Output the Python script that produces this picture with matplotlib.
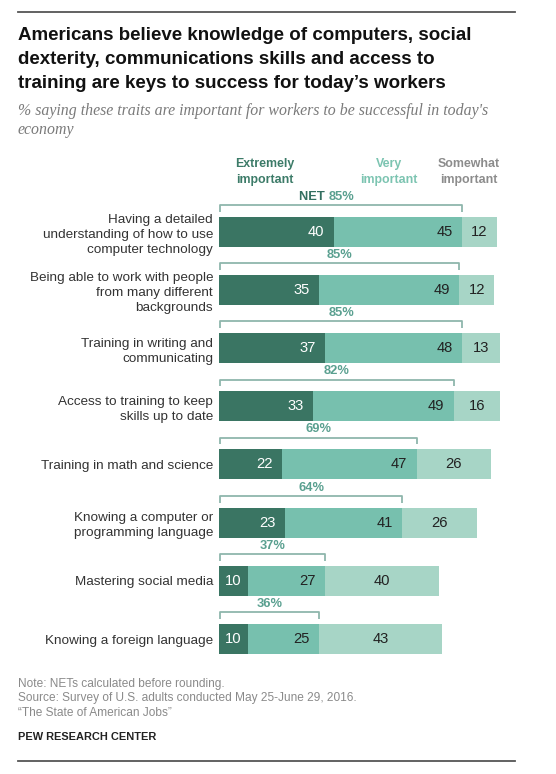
import matplotlib
matplotlib.use("Agg")
import matplotlib.pyplot as plt

# ---------------- data ----------------
categories = [
    "Having a detailed\nunderstanding of how to use\ncomputer technology",
    "Being able to work with people\nfrom many different\nbackgrounds",
    "Training in writing and\ncommunicating",
    "Access to training to keep\nskills up to date",
    "Training in math and science",
    "Knowing a computer or\nprogramming language",
    "Mastering social media",
    "Knowing a foreign language",
]
extremely = [40, 35, 37, 33, 22, 23, 10, 10]
very = [45, 49, 48, 49, 47, 41, 27, 25]
somewhat = [12, 12, 13, 16, 26, 26, 40, 43]
net = [85, 85, 85, 82, 69, 64, 37, 36]
series_names = ["Extremely\nimportant", "Very\nimportant", "Somewhat\nimportant"]

title_lines = ["Americans believe knowledge of computers, social",
               "dexterity, communications skills and access to",
               "training are keys to success for today\u2019s workers"]
subtitle_lines = ["% saying these traits are important for workers to be successful in today's",
                  "economy"]
note_lines = ["Note: NETs calculated before rounding.",
              "Source: Survey of U.S. adults conducted May 25-June 29, 2016.",
              "\u201cThe State of American Jobs\u201d"]
credit = "PEW RESEARCH CENTER"

# ---------------- style ----------------
C_DARK = "#3a7563"
C_MID = "#77c0ae"
C_LIGHT = "#a7d5c6"
C_NET = "#5aa090"
C_NET_WORD = "#336f60"
C_BRACKET = "#8fb6ac"
HDR_COLORS = ["#3c7b68", "#7cc4b1", "#8c8c8c"]
SANS = "Liberation Sans"
SERIF = "Liberation Serif"

W, H = 556, 774
fig = plt.figure(figsize=(W / 100, H / 100), dpi=100)
renderer = fig.canvas.get_renderer()


def fx(px):
    return px / W


def fy(py):
    return 1 - py / H


def fit_size(text, target_px, **kw):
    t = fig.text(0, 0, text, fontsize=10, **kw)
    w = t.get_window_extent(renderer).width
    t.remove()
    return 10 * target_px / w


FS_TITLE = fit_size(title_lines[0], 456, family=SANS, fontweight="bold")
FS_SUB = fit_size(subtitle_lines[0], 470, family=SERIF, style="italic")
FS_LAB = fit_size("understanding of how to use", 170, family=SANS)
FS_NOTE = fit_size(note_lines[1], 341, family=SANS)
FS_CREDIT = fit_size(credit, 138, family=SANS, fontweight="bold")
FS_HDR = fit_size("Extremely", 59.6, family=SANS, fontweight="bold")
FS_NUM = fit_size("45", 16.5, family=SANS)
FS_NET = fit_size("85%", 26, family=SANS)

# axes placement (pixels)
ax_left, ax_right = 219, 219 + 100 * 2.863
ax_top, ax_bottom = 202.6, 668.1
ax = fig.add_axes([fx(ax_left), fy(ax_bottom), (ax_right - ax_left) / W,
                   (ax_bottom - ax_top) / H])
ax.set_xlim(0, 100)
n = len(categories)
ax.set_ylim(n - 0.5, -0.5)
for s in ax.spines.values():
    s.set_visible(False)
ax.set_xticks([])
ax.set_yticks(range(n))
ax.set_yticklabels(categories, fontsize=FS_LAB, color="#333333", family=SANS,
                   linespacing=1.36)
ax.tick_params(axis="y", length=0, pad=4.3)

bh = 0.5155
ys = list(range(n))
left2 = list(extremely)
left3 = [a + b for a, b in zip(extremely, very)]
ax.barh(ys, extremely, height=bh, color=C_DARK, linewidth=0)
ax.barh(ys, very, left=left2, height=bh, color=C_MID, linewidth=0)
ax.barh(ys, somewhat, left=left3, height=bh, color=C_LIGHT, linewidth=0)

# value labels
px_per_unit = 2.863
pad = 9.5 / px_per_unit
for i in range(n):
    e, v, s = extremely[i], very[i], somewhat[i]
    if e < 15:
        ax.text(e / 2, i, str(e), ha="center", va="center", color="white",
                fontsize=FS_NUM, family=SANS)
    else:
        ax.text(e - pad, i, str(e), ha="right", va="center",
                color="white", fontsize=FS_NUM, family=SANS)
    ax.text(e + v - pad, i, str(v), ha="right", va="center",
            color="#222222", fontsize=FS_NUM, family=SANS)
    ax.text(e + v + s / 2, i, str(s), ha="center", va="center",
            color="#222222", fontsize=FS_NUM, family=SANS)

# NET brackets
for i in range(n):
    end = extremely[i] + very[i]
    top = i - bh / 2 - 0.201
    low = i - bh / 2 - 0.086
    x0 = 0.35
    ax.plot([x0, x0, end, end], [low, top, top, low], color=C_BRACKET,
            lw=1.3, solid_joinstyle="round", solid_capstyle="butt",
            clip_on=False)
    t = ax.text((x0 + end) / 2, top - 0.04, f"{net[i]}%", ha="center",
                va="bottom", color=C_NET, fontsize=FS_NET, family=SANS,
                fontweight="bold")
    if i == 0:
        ax.annotate("NET ", xy=(0, 0), xycoords=t, ha="right", va="bottom",
                    color=C_NET_WORD, fontsize=FS_NET, family=SANS,
                    fontweight="bold")

# series headers
hdr_x = [264.8, 388.7, 468.6]
for name, hx, col in zip(series_names, hdr_x, HDR_COLORS):
    fig.text(fx(hx), fy(172), name, ha="center", va="center", color=col,
             fontsize=FS_HDR, family=SANS, fontweight="bold", linespacing=1.5)

# title block
for k, line in enumerate(title_lines):
    fig.text(fx(17.7), fy(35 + 24.2 * k), line, ha="left", va="center",
             fontsize=FS_TITLE, family=SANS, fontweight="bold", color="#111111")
for k, line in enumerate(subtitle_lines):
    fig.text(fx(17.7), fy(111 + 19 * k), line, ha="left", va="center",
             fontsize=FS_SUB, family=SERIF, style="italic", color="#7a7a7a")

# footer
for k, line in enumerate(note_lines):
    fig.text(fx(17.7), fy(683.5 + 15 * k), line, ha="left", va="center",
             fontsize=FS_NOTE, family=SANS, color="#8a8a8a")
fig.text(fx(17.7), fy(737.5), credit, ha="left", va="center",
         fontsize=FS_CREDIT, family=SANS, fontweight="bold", color="#222222")

# rules
for yy in (11.5, 761):
    fig.add_artist(plt.Line2D([fx(17.7), fx(514.7)], [fy(yy), fy(yy)],
                              color="#555555", lw=1.3))

fig.savefig("out.png", dpi=100, facecolor="white")
